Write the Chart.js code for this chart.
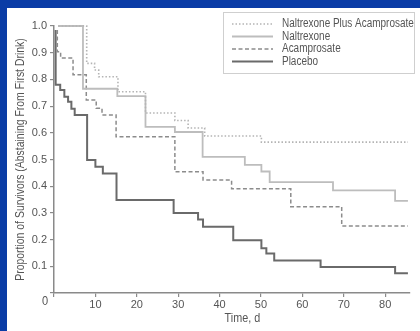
<!DOCTYPE html>
<html>
<head>
<meta charset="utf-8">
<script src="https://cdn.jsdelivr.net/npm/chart.js@4.4.1/dist/chart.umd.min.js"></script>
<style>
  html, body { margin: 0; padding: 0; background: #ffffff; }
  #wrap { width: 420px; height: 331px; position: relative; }
</style>
</head>
<body>
<div id="wrap"><canvas id="c" width="420" height="331"></canvas></div>
<script>
// ---- Data ----
const seriesLabels = ["Naltrexone Plus Acamprosate", "Naltrexone", "Acamprosate", "Placebo"];

const npaDays = [1, 7.9, 9.8, 10.8, 15.45, 22.1, 29.2, 32.4, 36.4, 50.1, 85.5];
const npaSurv = [1.0, 0.86, 0.835, 0.81, 0.754, 0.674, 0.646, 0.618, 0.588, 0.565, 0.565];

const naltDays = [1, 7.0, 15.3, 22.1, 29.2, 35.9, 46.1, 50.1, 52.1, 67.4, 82.4, 85.5];
const naltSurv = [1.0, 0.765, 0.737, 0.622, 0.603, 0.51, 0.48, 0.455, 0.415, 0.384, 0.345, 0.345];

const acamDays = [0.8, 0.8, 1.6, 4.6, 7.8, 10.2, 11.6, 15.0, 29.2, 36.0, 42.9, 57.2, 69.5, 85.5];
const acamSurv = [0.985, 0.904, 0.88, 0.817, 0.723, 0.692, 0.667, 0.585, 0.454, 0.423, 0.39, 0.323, 0.251, 0.251];

const placDays = [0.4, 0.4, 1.5, 2.5, 3.4, 4.2, 5.0, 8.0, 10.0, 11.8, 15.1, 28.9, 34.8, 36.0, 43.3, 50.1, 51.3, 53.2, 64.4, 82.4, 85.5];
const placSurv = [0.985, 0.78, 0.76, 0.735, 0.716, 0.69, 0.667, 0.498, 0.473, 0.448, 0.348, 0.3, 0.275, 0.248, 0.198, 0.168, 0.148, 0.122, 0.097, 0.074, 0.074];

const xTickValues = [0, 10, 20, 30, 40, 50, 60, 70, 80];
const yTickValues = [0.1, 0.2, 0.3, 0.4, 0.5, 0.6, 0.7, 0.8, 0.9, 1.0];
const xTitle = "Time, d";
const yTitle = "Proportion of Survivors (Abstaining From First Drink)";

// ---- Helpers ----
const FONT = "'Liberation Sans', Arial, sans-serif";
const TXT = "#555555";
const AXIS = "#8a8a8a";
const NARROW = 0.83;
const toPts = (d, s) => d.map((x, i) => ({ x: x, y: s[i] }));

function narrowText(ctx, text, x, y, align, sx) {
  ctx.save();
  ctx.translate(x, y);
  ctx.scale(sx, 1);
  ctx.textAlign = align;
  ctx.textBaseline = 'middle';
  ctx.fillText(text, 0, 0);
  ctx.restore();
}

const frame = {
  id: 'frame',
  beforeDraw(chart) {
    const ctx = chart.ctx;
    ctx.save();
    ctx.fillStyle = '#ffffff';
    ctx.fillRect(0, 0, chart.width, chart.height);
    ctx.fillStyle = '#0a3ca6';
    ctx.fillRect(0, 0, chart.width, 8);
    ctx.fillRect(0, 0, 7, chart.height);
    ctx.restore();
  },
  afterDraw(chart) {
    const ctx = chart.ctx;
    const xs = chart.scales.x;
    const ys = chart.scales.y;
    ctx.save();
    ctx.fillStyle = TXT;
    ctx.font = "12px " + FONT;
    // origin label and x title
    narrowText(ctx, "0", xs.left - 9, 302, 'center', 0.92);
    narrowText(ctx, xTitle, xs.getPixelForValue(45.5), 319, 'center', 0.9);
    // y title (rotated, condensed)
    ctx.save();
    ctx.translate(21, (ys.top + ys.bottom) / 2);
    ctx.rotate(-Math.PI / 2);
    narrowText(ctx, yTitle, 0, 0, 'center', 0.87);
    ctx.restore();
    // legend
    const bx = 223, by = 12, bw = 191, bh = 61;
    ctx.strokeStyle = '#cfcfcf';
    ctx.lineWidth = 1;
    ctx.strokeRect(bx + 0.5, by + 0.5, bw, bh);
    const rows = [24, 36.5, 49, 61.5];
    chart.data.datasets.forEach((ds, i) => {
      const y = rows[i];
      ctx.save();
      ctx.strokeStyle = ds.borderColor;
      ctx.lineWidth = ds.borderWidth;
      ctx.setLineDash(ds.borderDash || []);
      ctx.beginPath();
      ctx.moveTo(232, y);
      ctx.lineTo(273, y);
      ctx.stroke();
      ctx.restore();
      ctx.fillStyle = TXT;
      narrowText(ctx, ds.label, 282, y, 'left', NARROW);
    });
    ctx.restore();
  }
};

new Chart(document.getElementById('c'), {
  type: 'line',
  data: {
    datasets: [
      { label: seriesLabels[0], data: toPts(npaDays, npaSurv), borderColor: '#b4b4b4', borderWidth: 1.6, borderDash: [1.5, 2] },
      { label: seriesLabels[1], data: toPts(naltDays, naltSurv), borderColor: '#bdbdbd', borderWidth: 1.8 },
      { label: seriesLabels[2], data: toPts(acamDays, acamSurv), borderColor: '#8c8c8c', borderWidth: 1.5, borderDash: [4, 2.5] },
      { label: seriesLabels[3], data: toPts(placDays, placSurv), borderColor: '#6a6a6a', borderWidth: 2 }
    ].map(d => Object.assign({ stepped: 'before', pointRadius: 0, fill: false, clip: false, tension: 0 }, d))
  },
  options: {
    responsive: false,
    animation: false,
    events: [],
    layout: { padding: { top: 26, right: 10, left: 0, bottom: 0 } },
    plugins: { legend: { display: false }, tooltip: { enabled: false } },
    scales: {
      x: {
        type: 'linear',
        min: 0, max: 86,
        afterFit: s => { s.height = 38; },
        afterBuildTicks: s => { s.ticks = xTickValues.map(v => ({ value: v })); },
        ticks: { color: TXT, font: { family: FONT, size: 11 }, padding: 1, maxRotation: 0,
                 callback: v => v === 0 ? '' : String(v) },
        grid: { drawOnChartArea: false, drawTicks: true, tickLength: 4, color: AXIS, lineWidth: 1.2 },
        border: { display: true, color: AXIS, width: 1.5 },
        title: { display: false }
      },
      y: {
        type: 'linear',
        min: 0, max: 1.0,
        afterFit: s => { s.width = 54; },
        afterBuildTicks: s => { s.ticks = [{ value: 0 }].concat(yTickValues.map(v => ({ value: v }))); },
        ticks: { color: TXT, font: { family: FONT, size: 11 }, padding: 3,
                 callback: v => v === 0 ? '' : v.toFixed(1) },
        grid: { drawOnChartArea: false, drawTicks: true, tickLength: 4, color: AXIS, lineWidth: 1.2 },
        border: { display: true, color: AXIS, width: 1.5 },
        title: { display: false }
      }
    }
  },
  plugins: [frame]
});
</script>
</body>
</html>
